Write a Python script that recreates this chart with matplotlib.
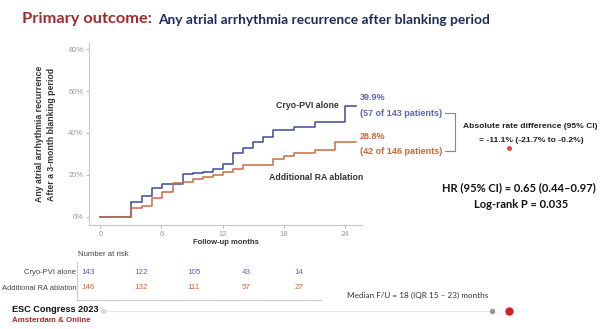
import matplotlib.pyplot as plt

# Kaplan-Meier style step data (months, cumulative %)
cryo_t = [0, 3.05, 4.1, 5.1, 6.1, 8.1, 9.1, 10.1, 11.1, 12.05, 13, 14, 15, 16, 17, 19, 21.05, 24.07, 25.1]
cryo_y = [0, 7.0, 10.0, 13.5, 15.6, 20.2, 20.7, 21.4, 22.8, 25.0, 30.3, 33.0, 35.7, 38.0, 41.4, 43.0, 45.3, 53.0, 53.0]
ra_t = [0, 3.05, 4.1, 5.1, 6.1, 7.1, 8.1, 9.1, 10.1, 11.06, 12.05, 13, 14, 17, 18, 19, 21.05, 23.07, 25.1]
ra_y = [0, 4.2, 5.1, 9.0, 12.0, 15.9, 16.5, 17.8, 19.0, 20.0, 21.3, 22.8, 24.7, 27.4, 29.0, 30.2, 32.0, 35.8, 35.8]

risk_months = [0, 6, 12, 18, 24]
risk_cryo = [143, 122, 105, 43, 14]
risk_ra = [146, 132, 111, 57, 27]

BLUE = "#3d4b98"
ORANGE = "#cc6a45"
BLUE_TXT = "#6163b4"
ORANGE_TXT = "#d2643a"
W, H = 600, 329

def px(x, y):
    return x / W, 1 - y / H

plt.rcParams['font.family'] = ['Liberation Sans', 'DejaVu Sans']
fig = plt.figure(figsize=(6, 3.29), dpi=100)
fig.patch.set_facecolor("white")

# main KM axes
l, r, t, b = 89, 362, 43, 225
ax = fig.add_axes([l / W, 1 - b / H, (r - l) / W, (b - t) / H])
ax.step(cryo_t, cryo_y, where="post", color=BLUE, lw=1.1)
ax.step(ra_t, ra_y, where="post", color=ORANGE, lw=1.1)
ax.set_xlim(-1.12, 25.7)
ax.set_ylim(-4, 83)
ax.set_xticks([0, 6, 12, 18, 24])
ax.set_yticks([0, 20, 40, 60, 80])
ax.set_yticklabels([f"{v}%" for v in [0, 20, 40, 60, 80]])
ax.tick_params(labelsize=5.5, colors="#999999", length=2, width=0.5, pad=2)
for s in ["top", "right"]:
    ax.spines[s].set_visible(False)
for s in ["left", "bottom"]:
    ax.spines[s].set_color("#c8c8c8")
    ax.spines[s].set_linewidth(0.8)
ax.set_xlabel("Follow-up months", fontsize=5.5, fontweight="bold", color="#333333", labelpad=1)

# y label (two lines)
fig.text(*px(40, 134), "Any atrial arrhythmia recurrence", rotation=90, ha="center", va="center",
         fontsize=6.3, fontweight="bold", color="#333333")
fig.text(*px(51, 134), "After a 3-month blanking period", rotation=90, ha="center", va="center",
         fontsize=6.3, fontweight="bold", color="#333333")

# title
fig.text(*px(22, 19), "Primary outcome:", fontsize=11.8, color="#a5282c", va="center",
         family="Lato", fontweight="bold")
fig.text(*px(158, 20), "Any atrial arrhythmia recurrence after blanking period", fontsize=9.9,
         color="#1f2a5c", va="center", family="Lato", fontweight="bold")

# curve labels
fig.text(*px(307, 106), "Cryo-PVI alone", fontsize=6.3, fontweight="bold", color="#333333", ha="center", va="center")
fig.text(*px(316, 177), "Additional RA ablation", fontsize=6.3, fontweight="bold", color="#333333", ha="center", va="center")

fig.text(*px(360, 98), "39.9%", fontsize=6.5, color=BLUE_TXT, va="center", fontweight="bold")
fig.text(*px(360, 113), "(57 of 143 patients)", fontsize=6.5, color=BLUE_TXT, va="center", fontweight="bold")
fig.text(*px(360, 136), "28.8%", fontsize=6.5, color=ORANGE_TXT, va="center", fontweight="bold")
fig.text(*px(360, 151), "(42 of 146 patients)", fontsize=6.5, color=ORANGE_TXT, va="center", fontweight="bold")

# bracket
bx = [445, 455, 455, 445]
by = [113, 113, 151, 151]
fig.add_artist(plt.Line2D([x / W for x in bx], [1 - y / H for y in by], color="#888888", lw=0.8))

fig.text(*px(530, 127), "Absolute rate difference (95% CI)", fontsize=6.1, color="#222222",
         ha="center", va="center", fontweight="bold")
fig.text(*px(531, 141), "= -11.1% (-21.7% to -0.2%)", fontsize=6.1, color="#222222",
         ha="center", va="center", fontweight="bold")
fig.add_artist(plt.Line2D([509 / W], [1 - 148 / H], marker="o", ms=2.5, color="#e84040", lw=0))

fig.text(*px(519, 188), "HR (95% CI) = 0.65 (0.44\u20130.97)", fontsize=8, color="#111111", ha="center",
         va="center", family="Lato", fontweight="bold")
fig.text(*px(521, 204), "Log-rank P = 0.035", fontsize=8, color="#111111", ha="center",
         va="center", family="Lato", fontweight="bold")

# number at risk table
tab = fig.add_axes([77 / W, 1 - 300 / H, (321 - 77) / W, (300 - 262) / H])
tab.set_xlim(-1.28, 26.5)
tab.set_ylim(0, 3)
for m, c, a in zip(risk_months, risk_cryo, risk_ra):
    tab.text(m, 2.2, str(c), color=BLUE_TXT, fontsize=5.8, ha="center", va="center")
    tab.text(m, 0.95, str(a), color=ORANGE_TXT, fontsize=5.8, ha="center", va="center")
tab.set_xticks([])
tab.set_yticks([])
for s in ["top", "right"]:
    tab.spines[s].set_visible(False)
for s in ["left", "bottom"]:
    tab.spines[s].set_color("#cccccc")
    tab.spines[s].set_linewidth(0.8)
fig.text(*px(78, 255), "Number at risk", fontsize=5.6, color="#444444", va="center")
fig.text(*px(76, 272), "Cryo-PVI alone", fontsize=5.5, color="#444444", va="center", ha="right")
fig.text(*px(76, 288), "Additional RA ablation", fontsize=5.4, color="#444444", va="center", ha="right")

fig.text(*px(347, 295), "Median F/U = 18 (IQR 15 \u2013 23) months", fontsize=5.9, color="#333333",
         va="center", family="Lato")

# footer
fig.text(*px(12, 310), "ESC Congress 2023", fontsize=6.6, fontweight="bold", color="#111111", va="center")
fig.text(*px(12, 320), "Amsterdam & Online", fontsize=5.7, fontweight="bold", color="#b0282c", va="center")
fig.add_artist(plt.Line2D([103 / W, 492 / W], [1 - 311 / H] * 2, color="#e6e6e6", lw=0.8))
fig.add_artist(plt.Line2D([103 / W], [1 - 311 / H], marker="o", ms=3, color="#dddddd", lw=0))
fig.add_artist(plt.Line2D([492 / W], [1 - 311 / H], marker="o", ms=3, color="#999999", lw=0))
fig.add_artist(plt.Line2D([509 / W], [1 - 311 / H], marker="o", ms=5, color="#cc2222", lw=0))

fig.savefig("out.png", dpi=100, facecolor="white")
